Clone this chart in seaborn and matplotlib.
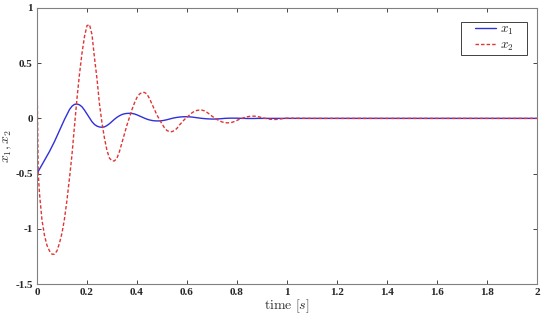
import numpy as np
import pandas as pd
import matplotlib
matplotlib.use("Agg")
import matplotlib.pyplot as plt
from matplotlib.patches import Rectangle
import seaborn as sns

sns.set_style("ticks")
plt.rcParams["font.family"] = ["Liberation Serif", "DejaVu Serif"]
plt.rcParams["mathtext.fontset"] = "cm"

# sample grid (s), 0.01 s steps up to 1 s, then coarse
grid = [round(0.01 * i, 2) for i in range(101)]
tail = [1.1, 1.2, 1.3, 1.4, 1.5, 1.6, 1.7, 1.8, 1.9, 2.0]

x1_vals = [
    -0.50, -0.46, -0.42, -0.38, -0.34, -0.30, -0.255, -0.21, -0.16, -0.11,
    -0.06, -0.01, 0.035, 0.08, 0.11, 0.127, 0.13, 0.123, 0.105, 0.075,
    0.04, 0.005, -0.03, -0.055, -0.07, -0.078, -0.08, -0.077, -0.065, -0.048,
    -0.028, -0.008, 0.01, 0.024, 0.035, 0.042, 0.045, 0.046, 0.045, 0.04,
    0.032, 0.022, 0.012, 0.002, -0.007, -0.014, -0.019, -0.022, -0.023, -0.023,
    -0.021, -0.017, -0.012, -0.006, 0.0, 0.005, 0.009, 0.012, 0.014, 0.015,
    0.015, 0.014, 0.012, 0.009, 0.006, 0.003, 0.0, -0.002, -0.004, -0.005,
    -0.006, -0.006, -0.005, -0.004, -0.002, 0.0, 0.001, 0.002, 0.002, 0.002,
    0.002, 0.001, 0.0, 0.0, -0.001, -0.001, -0.001, -0.001, 0.0, 0.0,
    0.0, 0.0, 0.0, 0.0, 0.0, 0.0, 0.0, 0.0, 0.0, 0.0,
    0.0,
]

x2_head_t = [0.0, 0.005]
x2_head = [0.42, -0.50]
x2_vals = [
    -0.68, -0.92, -1.06, -1.15, -1.20, -1.23, -1.23, -1.20, -1.13,
    -1.04, -0.91, -0.74, -0.54, -0.33, -0.07, 0.18, 0.40, 0.59, 0.74,
    0.84, 0.85, 0.76, 0.55, 0.36, 0.13, -0.04, -0.18, -0.29, -0.36,
    -0.385, -0.385, -0.36, -0.30, -0.22, -0.14, -0.06, 0.01, 0.08, 0.14,
    0.19, 0.22, 0.235, 0.235, 0.22, 0.18, 0.13, 0.08, 0.03, -0.01,
    -0.05, -0.085, -0.11, -0.12, -0.12, -0.11, -0.09, -0.06, -0.035, -0.01,
    0.01, 0.03, 0.05, 0.065, 0.072, 0.076, 0.075, 0.068, 0.055, 0.038,
    0.02, 0.005, -0.01, -0.022, -0.032, -0.038, -0.04, -0.04, -0.036, -0.028,
    -0.018, -0.008, 0.0, 0.008, 0.014, 0.018, 0.02, 0.02, 0.018, 0.013,
    0.007, 0.002, -0.003, -0.007, -0.009, -0.01, -0.009, -0.006, -0.003, 0.0,
    0.002,
]

df1 = pd.DataFrame({"t": grid + tail, "v": x1_vals + [0.0] * len(tail)})
df2 = pd.DataFrame({"t": x2_head_t + grid[1:] + tail,
                    "v": x2_head + x2_vals + [0.0] * len(tail)})

fig = plt.figure(figsize=(5.47, 3.19), dpi=100)
ax = fig.add_axes([0.0676, 0.1097, 0.914, 0.8653])

sns.lineplot(data=df1, x="t", y="v", ax=ax, color="#2f2fdc", lw=1.0,
             label=r"$x_1$", sort=False)
sns.lineplot(data=df2, x="t", y="v", ax=ax, color="#e03535", lw=1.0,
             label=r"$x_2$", sort=False)
ax.lines[1].set_linestyle((0, (2.5, 1.5)))

ax.set_xlim(0, 2)
ax.set_ylim(-1.5, 1)
ax.set_xticks([0, 0.2, 0.4, 0.6, 0.8, 1, 1.2, 1.4, 1.6, 1.8, 2])
ax.set_xticklabels(["0", "0.2", "0.4", "0.6", "0.8", "1", "1.2", "1.4",
                    "1.6", "1.8", "2"])
ax.set_yticks([-1.5, -1, -0.5, 0, 0.5, 1])
ax.set_yticklabels(["-1.5", "-1", "-0.5", "0", "0.5", "1"])

ax.tick_params(direction="in", top=True, right=True, length=3, width=0.6,
               color="#262626", labelsize=8, pad=3)
for lab in ax.get_xticklabels() + ax.get_yticklabels():
    lab.set_fontweight("bold")
for sp in ax.spines.values():
    sp.set_visible(True)
    sp.set_color("#808080")
    sp.set_linewidth(0.8)

ax.set_xlabel(r"$\mathrm{time}\ [s]$", fontsize=10, color="#333333", labelpad=0)
ax.set_ylabel(r"$x_1, x_2$", fontsize=10, color="#333333", labelpad=1)

# MATLAB-style legend: fixed box, content centred in it
box = Rectangle((0.848, 0.830), 0.132, 0.119, transform=ax.transAxes,
                fill=True, facecolor="white", edgecolor="#404040", lw=0.7,
                zorder=4)
ax.add_patch(box)
leg = ax.legend(loc="center", bbox_to_anchor=(0.914, 0.8895), fontsize=9.5,
                frameon=False, handlelength=1.6, labelspacing=0.2,
                handletextpad=0.3, borderpad=0, borderaxespad=0)
leg.set_zorder(5)

fig.savefig("out.png", dpi=100)
